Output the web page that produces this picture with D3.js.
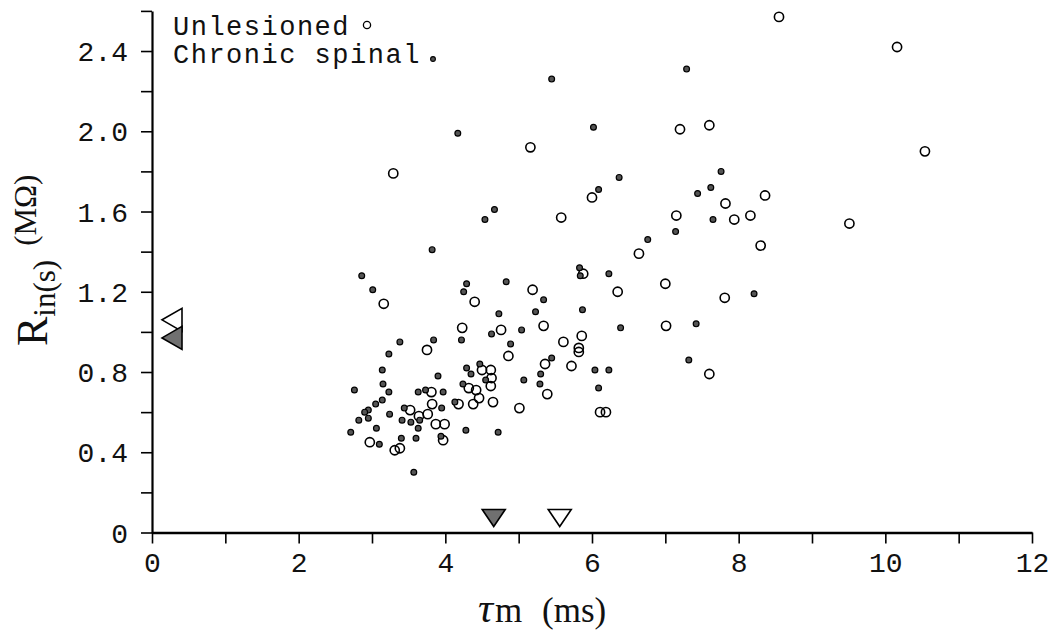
<!DOCTYPE html>
<html>
<head>
<meta charset="utf-8">
<script src="https://cdn.jsdelivr.net/npm/d3@7"></script>
<style>
  html, body { margin: 0; padding: 0; background: #fff; }
  svg { display: block; }
</style>
</head>
<body>
<svg id="chart" width="1056" height="638"></svg>
<script>
// Membrane time constant (ms) vs. input resistance (MΩ) for two cell groups.
const seriesNames = ["Unlesioned", "Chronic spinal"];

// [tau_m (ms), R_in(s) (MΩ)]
const unlesioned = [
  [3.16,1.14],[4.40,1.15],[5.19,1.21],[6.64,1.39],[7.00,1.24],[6.35,1.20],[7.01,1.03],
  [5.88,1.29],[4.23,1.02],[4.76,1.01],[5.34,1.03],[3.75,0.91],[4.86,0.88],[5.61,0.95],
  [5.86,0.98],[5.82,0.92],[5.82,0.90],[5.72,0.83],[5.36,0.84],[5.39,0.69],[5.01,0.62],
  [4.50,0.81],[4.62,0.81],[4.63,0.77],[4.62,0.73],[4.32,0.72],[4.42,0.71],[4.46,0.67],
  [4.38,0.64],[4.65,0.65],[4.18,0.64],[3.81,0.70],[3.82,0.64],[3.76,0.59],[3.52,0.61],
  [3.64,0.58],[3.87,0.54],[3.99,0.54],[3.97,0.46],[2.97,0.45],[3.31,0.41],[3.38,0.42],
  [6.11,0.60],[6.19,0.60],[3.29,1.79],[5.16,1.92],[6.00,1.67],[5.58,1.57],[8.55,2.57],
  [10.16,2.42],[10.54,1.90],[9.51,1.54],[7.20,2.01],[7.60,2.03],[7.15,1.58],[7.82,1.64],
  [8.36,1.68],[7.94,1.56],[8.16,1.58],[8.30,1.43],[7.81,1.17],[7.60,0.79]
];

const chronicSpinal = [
  [3.82,1.41],[2.86,1.28],[3.01,1.21],[4.29,1.24],[4.25,1.20],[4.83,1.25],[6.76,1.46],
  [7.14,1.50],[5.83,1.32],[5.84,1.28],[6.23,1.29],[5.34,1.16],[5.23,1.10],[4.73,1.09],
  [5.87,1.11],[6.39,1.02],[5.04,1.01],[4.63,0.99],[4.22,0.96],[3.84,0.96],[3.38,0.95],
  [4.89,0.94],[3.23,0.89],[3.14,0.81],[3.90,0.78],[3.15,0.74],[2.76,0.71],[3.23,0.70],
  [3.63,0.70],[3.73,0.71],[3.97,0.70],[3.14,0.66],[3.05,0.64],[2.95,0.61],[2.90,0.60],
  [2.82,0.56],[2.95,0.57],[3.24,0.59],[3.44,0.62],[3.41,0.56],[3.53,0.55],[3.65,0.56],
  [3.63,0.52],[3.95,0.62],[4.13,0.65],[3.06,0.52],[2.71,0.50],[3.10,0.44],[3.40,0.47],
  [3.60,0.47],[3.94,0.48],[4.28,0.51],[4.72,0.50],[3.57,0.30],[4.24,0.74],[4.29,0.82],
  [4.35,0.79],[4.47,0.84],[4.55,0.76],[5.07,0.76],[5.30,0.79],[5.29,0.74],[5.45,0.87],
  [6.04,0.81],[6.23,0.81],[6.09,0.72],[4.17,1.99],[5.45,2.26],[6.02,2.02],[6.37,1.77],
  [6.09,1.71],[4.67,1.61],[4.54,1.56],[7.29,2.31],[7.44,1.69],[7.62,1.72],[7.76,1.80],
  [7.65,1.56],[7.42,1.04],[8.21,1.19],[7.32,0.86]
];

// Group means marked on the axes: [unlesioned, chronic spinal]
const meanTau = [5.56, 4.66];
const meanRin = [1.06, 0.97];

const xTicks = d3.range(0, 13, 1);
const xTickLabels = ["0", "2", "4", "6", "8", "10", "12"];
const yTicks = d3.range(0, 14).map(i => +(i * 0.2).toFixed(1));
const yTickLabels = ["0", "0.4", "0.8", "1.2", "1.6", "2.0", "2.4"];

const svg = d3.select("#chart");
svg.append("rect").attr("width", 1056).attr("height", 638).attr("fill", "#fff");

const x = d3.scaleLinear().domain([0, 12]).range([152, 1032]);
const y = d3.scaleLinear().domain([0, 2.6]).range([532.5, 10.9]);

const mono = "'Liberation Mono', 'DejaVu Sans Mono', monospace";
const serif = "'Liberation Serif', 'DejaVu Serif', serif";

const xLabelFor = d => {
  const i = xTickLabels.indexOf(String(d));
  return i >= 0 ? xTickLabels[i] : "";
};
const yLabelFor = d => {
  const s = d === 0 ? "0" : d.toFixed(1);
  return yTickLabels.includes(s) ? s : "";
};

// Y axis
const gy = svg.append("g")
  .attr("transform", `translate(${x(0)},0)`)
  .call(d3.axisLeft(y).tickValues(yTicks).tickSize(11).tickSizeOuter(0).tickPadding(13).tickFormat(yLabelFor));
gy.select(".domain").attr("stroke", "#000").attr("stroke-width", 2.2);
gy.selectAll(".tick line").attr("stroke", "#000").attr("stroke-width", 1.6);
gy.selectAll(".tick text")
  .attr("font-family", mono).attr("font-size", 28).attr("fill", "#111")
  .attr("dy", "0.34em");

// X axis
const gx = svg.append("g")
  .attr("transform", `translate(0,${y(0)})`)
  .call(d3.axisBottom(x).tickValues(xTicks).tickSize(11).tickSizeOuter(0).tickPadding(9).tickFormat(xLabelFor));
gx.select(".domain").attr("stroke", "#000").attr("stroke-width", 2.6);
gx.selectAll(".tick line").attr("stroke", "#000").attr("stroke-width", 1.6);
gx.selectAll(".tick text")
  .attr("font-family", mono).attr("font-size", 28).attr("fill", "#111");

// Axis titles
const yTitle = svg.append("text")
  .attr("transform", "translate(47,346) rotate(-90)")
  .attr("font-family", serif).attr("fill", "#111");
yTitle.append("tspan").attr("font-size", 44).text("R");
yTitle.append("tspan").attr("font-size", 31).attr("dy", 8).text("in(s)");
yTitle.append("tspan").attr("font-size", 31).attr("dy", -19).attr("dx", 14).text("(MΩ)");

const xTitle = svg.append("text")
  .attr("x", 478).attr("y", 622)
  .attr("font-family", serif).attr("fill", "#111").attr("font-size", 35);
xTitle.append("tspan").attr("font-style", "italic").attr("font-size", 42).text("τ");
xTitle.append("tspan").attr("dx", 2).text("m");
xTitle.append("tspan").attr("x", 542).text("(ms)");

// Mean markers along the axes (open = unlesioned, shaded = chronic spinal)
const triFill = ["#fff", "#707070"];
[0, 1].forEach(i => {
  const cx = x(meanTau[i]), top = y(0) - 23, tip = y(0) - 6;
  svg.append("path")
    .attr("d", `M${cx - 11.5},${top} L${cx + 11.5},${top} L${cx},${tip} Z`)
    .attr("fill", triFill[i]).attr("stroke", "#000").attr("stroke-width", 1.6)
    .attr("stroke-linejoin", "miter");
});
[0, 1].forEach(i => {
  const cy = y(meanRin[i]), tip = x(0) + 10, base = x(0) + 30;
  svg.append("path")
    .attr("d", `M${base},${cy - 11.5} L${base},${cy + 11.5} L${tip},${cy} Z`)
    .attr("fill", triFill[i]).attr("stroke", "#000").attr("stroke-width", 1.6);
});

// Data points
svg.append("g").selectAll("circle")
  .data(unlesioned).join("circle")
  .attr("cx", d => x(d[0])).attr("cy", d => y(d[1]))
  .attr("r", 4.6).attr("fill", "none").attr("stroke", "#000").attr("stroke-width", 1.6);

svg.append("g").selectAll("circle")
  .data(chronicSpinal).join("circle")
  .attr("cx", d => x(d[0])).attr("cy", d => y(d[1]))
  .attr("r", 2.9).attr("fill", "#555").attr("stroke", "#000").attr("stroke-width", 1.2);

// Legend
const legend = svg.append("g").attr("font-family", mono).attr("font-size", 27)
  .attr("letter-spacing", 1.5).attr("fill", "#111");
legend.append("text").attr("x", 173).attr("y", 35).text(seriesNames[0]);
legend.append("text").attr("x", 173).attr("y", 63).text(seriesNames[1]);
legend.append("circle").attr("cx", 367).attr("cy", 25).attr("r", 3.6)
  .attr("fill", "none").attr("stroke", "#000").attr("stroke-width", 1.3);
legend.append("circle").attr("cx", 433).attr("cy", 59).attr("r", 2.4)
  .attr("fill", "#555").attr("stroke", "#000").attr("stroke-width", 1.1);
</script>
</body>
</html>
